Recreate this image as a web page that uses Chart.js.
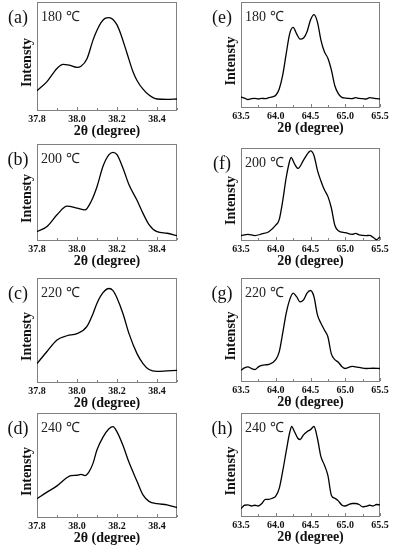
<!DOCTYPE html>
<html><head><meta charset="utf-8">
<script src="https://cdn.jsdelivr.net/npm/chart.js@4.4.1/dist/chart.umd.min.js"></script>
<style>
body{margin:0;background:#fff;width:394px;height:550px;overflow:hidden;position:relative}
canvas{position:absolute}
</style></head><body>
<canvas id="ca"></canvas><canvas id="ce"></canvas>
<canvas id="cb"></canvas><canvas id="cf"></canvas>
<canvas id="cc"></canvas><canvas id="cg"></canvas>
<canvas id="cd"></canvas><canvas id="ch"></canvas>
<script>
// ---------- data (normalized intensity) ----------
const panelLabels = ['(a)','(b)','(c)','(d)','(e)','(f)','(g)','(h)'];
const temperatures = ['180 ℃','200 ℃','220 ℃','240 ℃','180 ℃','200 ℃','220 ℃','240 ℃'];
const xTitle = '2θ (degree)';
const yTitle = 'Intensty';

const thetaA = [37.8,37.85,37.9,37.93,37.96,38.0,38.02,38.05,38.08,38.1,38.12,38.14,38.16,38.18,38.2,38.22,38.25,38.28,38.3,38.33,38.36,38.4,38.45,38.5];
const intenA = [0.186,0.27,0.39,0.427,0.42,0.40,0.41,0.48,0.65,0.74,0.81,0.85,0.857,0.84,0.79,0.70,0.53,0.36,0.28,0.20,0.146,0.11,0.107,0.11];

const thetaB = [37.8,37.85,37.9,37.95,38.0,38.04,38.07,38.1,38.13,38.16,38.18,38.2,38.23,38.26,38.3,38.33,38.36,38.4,38.45,38.5];
const intenB = [0.096,0.15,0.27,0.36,0.34,0.32,0.405,0.56,0.77,0.89,0.914,0.89,0.75,0.58,0.42,0.285,0.17,0.096,0.08,0.055];

const thetaC = [37.8,37.85,37.9,37.95,38.0,38.05,38.08,38.1,38.13,38.16,38.18,38.2,38.23,38.26,38.3,38.33,38.36,38.4,38.45,38.5];
const intenC = [0.185,0.30,0.41,0.45,0.47,0.54,0.66,0.76,0.86,0.90,0.88,0.81,0.66,0.47,0.28,0.185,0.128,0.11,0.115,0.12];

const thetaD = [37.8,37.85,37.9,37.95,37.97,38.0,38.02,38.04,38.06,38.08,38.1,38.13,38.16,38.18,38.2,38.23,38.26,38.3,38.33,38.36,38.4,38.45,38.5];
const intenD = [0.183,0.246,0.306,0.385,0.404,0.407,0.416,0.404,0.44,0.52,0.65,0.77,0.85,0.87,0.82,0.69,0.53,0.35,0.22,0.158,0.136,0.126,0.10];

const thetaE = [63.5,63.55,63.6,63.65,63.7,63.75,63.8,63.85,63.9,63.95,64.0,64.05,64.1,64.15,64.2,64.25,64.3,64.35,64.4,64.45,64.5,64.55,64.6,64.65,64.7,64.75,64.8,64.85,64.9,64.95,65.0,65.05,65.1,65.15,65.2,65.25,65.3,65.35,65.4,65.45,65.5];
const intenE = [0.104,0.094,0.08,0.088,0.091,0.085,0.091,0.088,0.097,0.104,0.12,0.18,0.31,0.51,0.70,0.76,0.70,0.65,0.66,0.72,0.83,0.88,0.81,0.64,0.53,0.47,0.36,0.21,0.135,0.10,0.094,0.09,0.088,0.097,0.091,0.088,0.085,0.097,0.094,0.088,0.085];

const thetaF = [63.5,63.6,63.7,63.8,63.9,64.0,64.05,64.1,64.15,64.2,64.22,64.27,64.32,64.4,64.47,64.5,64.55,64.6,64.65,64.7,64.75,64.8,64.85,64.9,65.0,65.1,65.15,65.2,65.3,65.35,65.4,65.45,65.5];
const intenF = [0.058,0.072,0.058,0.076,0.10,0.17,0.23,0.43,0.68,0.86,0.90,0.83,0.78,0.87,0.95,0.97,0.92,0.76,0.645,0.55,0.48,0.355,0.17,0.11,0.09,0.072,0.083,0.065,0.058,0.06,0.04,0.014,0.047];

const thetaG = [63.5,63.55,63.6,63.65,63.7,63.75,63.8,63.9,64.0,64.05,64.1,64.15,64.2,64.25,64.3,64.35,64.4,64.45,64.5,64.55,64.6,64.65,64.7,64.75,64.8,64.85,64.9,64.95,65.0,65.1,65.2,65.3,65.4,65.5];
const intenG = [0.113,0.135,0.145,0.13,0.12,0.145,0.16,0.17,0.215,0.29,0.47,0.66,0.79,0.855,0.82,0.77,0.79,0.855,0.88,0.82,0.645,0.565,0.50,0.435,0.27,0.215,0.19,0.15,0.13,0.15,0.14,0.13,0.132,0.13];

const thetaH = [63.5,63.55,63.6,63.65,63.7,63.75,63.8,63.85,63.9,63.95,64.0,64.05,64.1,64.15,64.2,64.23,64.27,64.32,64.35,64.4,64.45,64.5,64.55,64.6,64.65,64.7,64.75,64.8,64.85,64.9,64.95,65.0,65.05,65.1,65.15,65.2,65.25,65.3,65.35,65.4,65.45,65.5];
const intenH = [0.08,0.113,0.116,0.106,0.113,0.106,0.13,0.17,0.17,0.18,0.20,0.275,0.44,0.63,0.81,0.87,0.82,0.755,0.745,0.79,0.82,0.84,0.87,0.755,0.58,0.50,0.40,0.21,0.18,0.155,0.116,0.106,0.12,0.13,0.13,0.12,0.097,0.103,0.113,0.106,0.12,0.116];

// x-axis ranges / ticks
const rangeLeft = [37.8, 38.5], stepLeft = 0.1;
const rangeRight = [63.5, 65.5], stepRight = 0.25;

// ---------- layout ----------
const SERIF = "'Liberation Serif','Times New Roman',serif";
const panels = [
  {id:'ca', idx:0, th:thetaA, y:intenA, col:0, row:0, T:2,   B:111},
  {id:'cb', idx:1, th:thetaB, y:intenB, col:0, row:1, T:144, B:241},
  {id:'cc', idx:2, th:thetaC, y:intenC, col:0, row:2, T:278, B:383},
  {id:'cd', idx:3, th:thetaD, y:intenD, col:0, row:3, T:413, B:518},
  {id:'ce', idx:4, th:thetaE, y:intenE, col:1, row:0, T:2,   B:108},
  {id:'cf', idx:5, th:thetaF, y:intenF, col:1, row:1, T:148, B:241},
  {id:'cg', idx:6, th:thetaG, y:intenG, col:1, row:2, T:278, B:382},
  {id:'ch', idx:7, th:thetaH, y:intenH, col:1, row:3, T:413, B:517}
];
const colX = [{cl:0, cw:197, L:37, R:177}, {cl:197, cw:197, L:241, R:380}];
const rowY = [{ct:0, ch:141}, {ct:141, ch:135}, {ct:276, ch:135}, {ct:411, ch:139}];
const X_AXIS_H = 27;

const decor = {
  id:'decor',
  beforeDatasetsDraw(chart, args, o) {
    const a = chart.chartArea, ctx = chart.ctx, sx = chart.scales.x;
    ctx.save();
    ctx.strokeStyle = '#808080'; ctx.lineWidth = 1;
    ctx.strokeRect(Math.round(a.left)+0.5, Math.round(a.top)+0.5, Math.round(a.right-a.left)-1, Math.round(a.bottom-a.top)-1);
    ctx.beginPath();
    sx.ticks.forEach(t => {
      const px = Math.round(sx.getPixelForValue(t.value)) + 0.5;
      const len = t.label ? 3 : 2;
      ctx.moveTo(px, a.bottom - 1); ctx.lineTo(px, a.bottom - 1 - len);
    });
    ctx.stroke();
    ctx.restore();
  },
  afterDraw(chart, args, o) {
    const a = chart.chartArea, ctx = chart.ctx;
    ctx.save();
    ctx.fillStyle = '#111';
    ctx.textBaseline = 'middle';
    ctx.textAlign = 'center';
    ctx.font = '18px ' + SERIF;
    ctx.fillText(o.label, a.left - 19, a.top + 16);
    ctx.textAlign = 'left';
    ctx.font = '14px ' + SERIF;
    ctx.fillStyle = '#222';
    ctx.fillText(o.temp, a.left + 4, a.top + 15);
    ctx.translate(a.left - 10, (a.top + a.bottom) / 2 + 6);
    ctx.rotate(-Math.PI / 2);
    ctx.textAlign = 'center';
    ctx.font = 'bold 14px ' + SERIF;
    ctx.fillStyle = '#111';
    ctx.fillText(yTitle, 0, 0);
    ctx.restore();
  }
};

panels.forEach(p => {
  const c = colX[p.col], r = rowY[p.row];
  const cv = document.getElementById(p.id);
  cv.width = c.cw; cv.height = r.ch;
  cv.style.left = c.cl + 'px'; cv.style.top = r.ct + 'px';
  cv.style.width = c.cw + 'px'; cv.style.height = r.ch + 'px';
  const range = p.col === 0 ? rangeLeft : rangeRight;
  const step = p.col === 0 ? stepLeft : stepRight;
  const isMajor = v => p.col === 0 ? Math.round(v * 10) % 2 === 0 && Math.round(v*10) !== 385 : Math.round(v * 4) % 2 === 0;
  new Chart(cv, {
    type: 'line',
    data: { datasets: [{
      data: p.th.map((x, i) => ({x, y: p.y[i]})),
      borderColor: '#000', borderWidth: 1.3, pointRadius: 0,
      cubicInterpolationMode: 'monotone', fill: false
    }]},
    options: {
      responsive: false, animation: false, devicePixelRatio: 1,
      layout: { padding: {
        left: c.L - c.cl, right: c.cl + c.cw - c.R,
        top: p.T - r.ct, bottom: r.ct + r.ch - (p.B + X_AXIS_H)
      }},
      plugins: { legend: {display: false}, tooltip: {enabled: false},
        decor: { label: panelLabels[p.idx], temp: temperatures[p.idx] } },
      scales: {
        x: {
          type: 'linear', min: range[0], max: range[1],
          grid: { display: false, drawTicks: false },
          border: { display: false },
          ticks: {
            stepSize: step, autoSkip: false, maxRotation: 0, padding: 2,
            color: '#111', font: { family: SERIF, size: 10, weight: 'bold' },
            callback: v => isMajor(v) ? v.toFixed(1) : ''
          },
          title: { display: true, text: xTitle, color: '#111', padding: {top: 0, bottom: 0},
            font: { family: SERIF, size: 14, weight: 'bold', lineHeight: 1 } },
          afterFit: s => { s.height = X_AXIS_H; s.paddingLeft = 0; s.paddingRight = 0; }
        },
        y: { display: false, min: 0, max: 1 }
      }
    },
    plugins: [decor]
  });
});
</script>
</body></html>
